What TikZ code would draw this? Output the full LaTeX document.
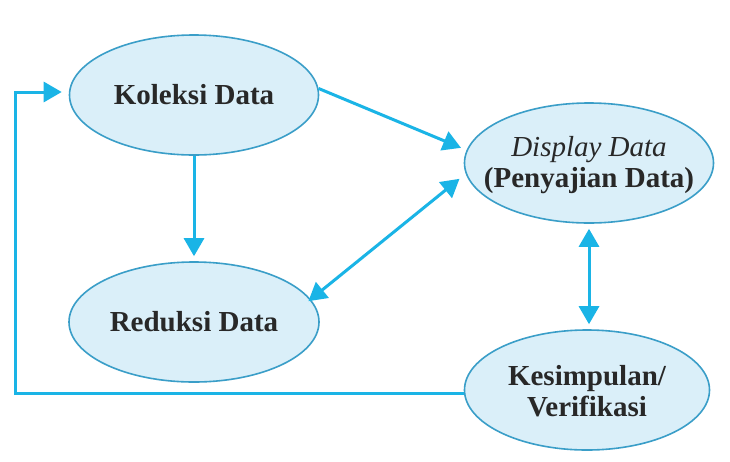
\documentclass[tikz,border=0pt]{standalone}
\usepackage{fontspec}
\setmainfont{Liberation Serif}
\usetikzlibrary{shapes.geometric,arrows.meta}
\definecolor{fillb}{RGB}{218,239,249}
\definecolor{edgeb}{RGB}{58,158,200}
\definecolor{arrb}{RGB}{26,180,230}
\definecolor{txt}{RGB}{40,40,40}
\begin{document}
\begin{tikzpicture}[x=1pt,y=-1pt,
  ell/.style={ellipse,draw=edgeb,fill=fillb,line width=1.6pt,inner sep=0pt,
    minimum height=120pt},
  lbl/.style={inner sep=0pt,text=txt,font=\fontsize{29}{31}\selectfont\bfseries,align=center},
  tip/.tip={Triangle[length=18pt,width=20pt]},
  arr/.style={draw=arrb,line width=3pt,-tip},
  darr/.style={draw=arrb,line width=3pt,tip-tip}]
\useasboundingbox[fill=white] (0,0) rectangle (730,461);
\node[ell,minimum width=249pt] (kol) at (194,95) {};
\node[ell,minimum width=250pt] (red) at (194,322) {};
\node[ell,minimum width=249pt] (dis) at (589,163) {};
\node[ell,minimum width=245pt] (kes) at (587,390) {};
\node[lbl] (kolt) at (kol) {Koleksi Data};
\node[lbl] (redt) at (red) {Reduksi Data};
\node[lbl] (dist) at ([yshift=-2pt]dis.center) {{\mdseries\itshape Display Data}\\(Penyajian Data)};
\node[lbl] (kest) at ([yshift=-1pt]kes.center) {Kesimpulan/\\Verifikasi};
\coordinate (fb1) at (15,393);
\coordinate (fb2) at (15,92);
\draw[arr,shorten >=5pt] (kol.south) -- (red.north);
\draw[arr,shorten >=6pt] (kol.3) -- (dis.174);
\draw[darr,shorten <=-3pt,shorten >=8pt] (red.11.5) -- (dis.185);
\draw[darr,shorten <=5pt,shorten >=5pt] (dis.south) -- (kes.north -| dis.south);
\draw[arr,shorten >=7pt] (kes.west |- fb1) -- (fb1) -- (fb2) -- (kol.west |- fb2);
\end{tikzpicture}
\end{document}
